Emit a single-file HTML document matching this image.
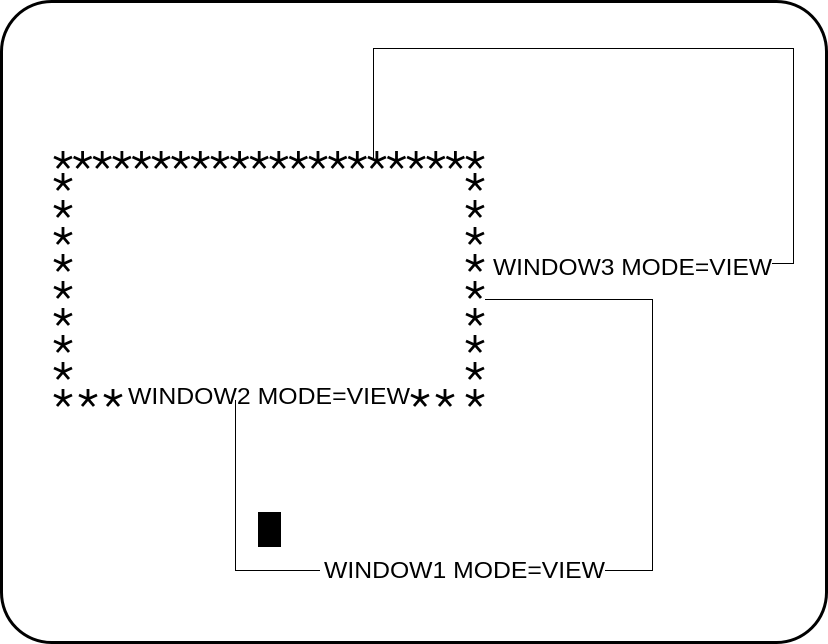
<!DOCTYPE html>
<html><head><meta charset="utf-8"><style>html,body{margin:0;padding:0;background:#fff}svg{display:block}</style></head>
<body>
<svg width="828" height="644" viewBox="0 0 828 644" xmlns="http://www.w3.org/2000/svg">
<defs>
<g id="s"><path d="M0,-9 L0,1 M-9,-3 L0,1 L9,-3 M-6,8 L0,1 L6,8" stroke="#000" stroke-width="2.8" fill="none"/></g>
</defs>
<rect x="1.5" y="1.5" width="825" height="641" rx="50" ry="50" fill="#fff" stroke="#000" stroke-width="3"/>
<g stroke="#000" stroke-width="1" fill="none">
<path d="M373.5,158 V48.5 H793.5 V263.5 H772"/>
<path d="M485,299.5 H652.5 V570.5 H605"/>
<path d="M320,570.5 H235.5 V400"/>
</g>
<rect x="258" y="512" width="23" height="35" fill="#000"/>
<g>
<use href="#s" x="63" y="160"/><use href="#s" x="82.6" y="160"/><use href="#s" x="102.2" y="160"/><use href="#s" x="121.9" y="160"/><use href="#s" x="141.5" y="160"/><use href="#s" x="161.1" y="160"/><use href="#s" x="180.7" y="160"/><use href="#s" x="200.3" y="160"/><use href="#s" x="220" y="160"/><use href="#s" x="239.6" y="160"/><use href="#s" x="259.2" y="160"/><use href="#s" x="278.8" y="160"/><use href="#s" x="298.4" y="160"/><use href="#s" x="318" y="160"/><use href="#s" x="337.7" y="160"/><use href="#s" x="357.3" y="160"/><use href="#s" x="376.9" y="160"/><use href="#s" x="396.5" y="160"/><use href="#s" x="416.1" y="160"/><use href="#s" x="435.8" y="160"/><use href="#s" x="455.4" y="160"/><use href="#s" x="475" y="160"/>
<use href="#s" x="63" y="182"/><use href="#s" x="63" y="209"/><use href="#s" x="63" y="236"/><use href="#s" x="63" y="263"/><use href="#s" x="63" y="290"/><use href="#s" x="63" y="317"/><use href="#s" x="63" y="344"/><use href="#s" x="63" y="371"/>
<use href="#s" x="475" y="182"/><use href="#s" x="475" y="209"/><use href="#s" x="475" y="236"/><use href="#s" x="475" y="263"/><use href="#s" x="475" y="290"/><use href="#s" x="475" y="317"/><use href="#s" x="475" y="344"/><use href="#s" x="475" y="371"/>
<use href="#s" x="63" y="398"/><use href="#s" x="88" y="398"/><use href="#s" x="113" y="398"/><use href="#s" x="420" y="398"/><use href="#s" x="445" y="398"/><use href="#s" x="475" y="398"/>
</g>
<g font-family="Liberation Sans, sans-serif" font-size="23" fill="#000">
<text x="493" y="275" textLength="279" lengthAdjust="spacingAndGlyphs">WINDOW3 MODE=VIEW</text>
<text x="128" y="404" textLength="282" lengthAdjust="spacingAndGlyphs">WINDOW2 MODE=VIEW</text>
<text x="324" y="578" textLength="281" lengthAdjust="spacingAndGlyphs">WINDOW1 MODE=VIEW</text>
</g>
</svg>
</body></html>
